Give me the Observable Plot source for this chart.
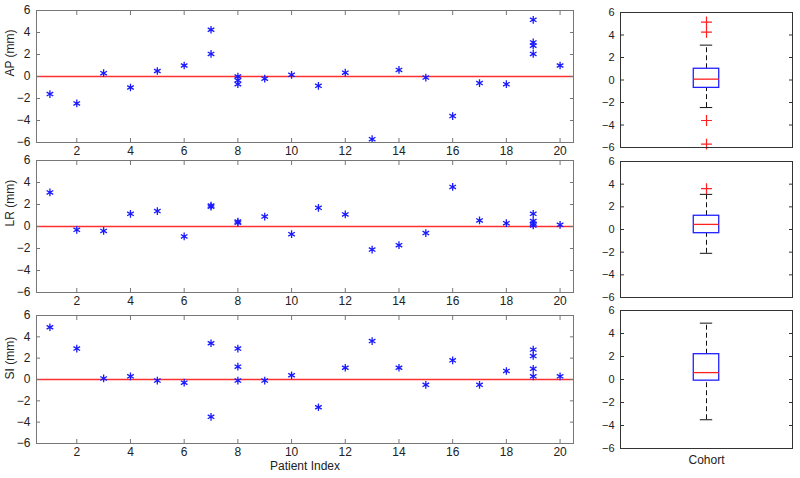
<!DOCTYPE html>
<html><head><meta charset="utf-8">
<script src="https://cdn.jsdelivr.net/npm/d3@7"></script>
<script src="https://cdn.jsdelivr.net/npm/@observablehq/plot@0.6"></script>
<style>
body{margin:0;background:#fff;}
#root{position:relative;width:800px;height:478px;overflow:hidden;background:#fff;}
.panel{position:absolute;}
</style></head><body><div id="root"></div>
<script>
// ---- data ----
const patientTicks = [2,4,6,8,10,12,14,16,18,20];
const valueTicks = [-6,-4,-2,0,2,4,6];
const boxCategory = "Cohort";

const apPatient = [1,2,3,4,5,6,7,7,8,8,8,9,10,11,12,13,14,15,16,17,18,19,19,19,19,20];
const apValue   = [-1.6,-2.45,0.3,-1.0,0.5,1.0,4.25,2.05,0,-0.35,-0.7,-0.2,0.15,-0.85,0.35,-5.7,0.6,-0.1,-3.6,-0.6,-0.7,5.15,3.1,2.8,2.05,1.0];

const lrPatient = [1,2,3,4,5,6,7,7,8,8,9,10,11,12,13,14,15,16,17,18,19,19,19,19,20];
const lrValue   = [3.1,-0.3,-0.4,1.15,1.4,-0.9,1.9,1.8,0.45,0.35,0.9,-0.7,1.7,1.1,-2.1,-1.7,-0.6,3.6,0.55,0.3,1.15,0.5,0.25,0.1,0.15];

const siPatient = [1,2,3,4,5,6,7,7,8,8,8,9,10,11,12,13,14,15,16,17,18,19,19,19,19,20];
const siValue   = [4.9,2.9,0.1,0.3,-0.1,-0.3,3.4,-3.5,2.9,1.2,-0.1,-0.1,0.4,-2.6,1.1,3.6,1.1,-0.5,1.8,-0.5,0.8,2.8,2.2,1.0,0.3,0.3];

const panelLabels = ["AP (mm)", "LR (mm)", "SI (mm)"];
const xTitle = "Patient Index";

// ---- helpers ----
const FONT = "Liberation Sans, Arial, Helvetica, sans-serif";
const root = document.getElementById("root");
function place(el, left, top) {
  const d = document.createElement("div");
  d.className = "panel";
  d.style.left = left + "px"; d.style.top = top + "px";
  d.appendChild(el); root.appendChild(d);
}
// MATLAB-style quantile
function mq(s, p) {
  const n = s.length, pos = n * p + 0.5;
  if (pos <= 1) return s[0];
  if (pos >= n) return s[n - 1];
  const i = Math.floor(pos), f = pos - i;
  return s[i - 1] + f * (s[i] - s[i - 1]);
}
function boxStats(values) {
  const s = values.slice().sort((a, b) => a - b);
  const q1 = mq(s, 0.25), med = mq(s, 0.5), q3 = mq(s, 0.75), iqr = q3 - q1;
  const lo = q1 - 1.5 * iqr, hi = q3 + 1.5 * iqr;
  const inside = s.filter(v => v >= lo && v <= hi);
  return {q1, med, q3, wlo: d3.min(inside), whi: d3.max(inside), outliers: s.filter(v => v < lo || v > hi)};
}

function scatter(patients, values, label, top, marginTop, plotH, withTitle) {
  const data = patients.map((p, i) => ({p, v: values[i]}));
  const marginBottom = withTitle ? 35 : 18;
  const marks = [
    Plot.ruleY([0], {stroke: "#ff3030", strokeWidth: 1.3}),
    Plot.dot(data, {x: "p", y: "v", symbol: "asterisk", r: 3.6, stroke: "#1a1aff", strokeWidth: 1.3}),
    Plot.frame({stroke: "#777"}),
    Plot.axisX(patientTicks, {anchor: "bottom", tickSize: -4, tickPadding: 8, stroke: "#777", fill: "#222", label: null}),
    Plot.axisX(patientTicks, {anchor: "top", tickSize: -4, stroke: "#777", tickFormat: () => "", label: null}),
    Plot.axisY(valueTicks, {anchor: "left", tickSize: -4, tickPadding: 10, stroke: "#777", fill: "#222", label: null}),
    Plot.axisY(valueTicks, {anchor: "right", tickSize: -4, stroke: "#777", tickFormat: () => "", label: null}),
    Plot.text([label], {frameAnchor: "left", dx: -26, rotate: -90, fill: "#222", fontSize: 12})
  ];
  if (withTitle) marks.push(Plot.text([xTitle], {frameAnchor: "bottom", dy: 26, fill: "#222", fontSize: 12}));
  const svg = Plot.plot({
    width: 580, height: marginTop + plotH + marginBottom,
    marginLeft: 36, marginRight: 7, marginTop, marginBottom,
    style: {fontFamily: FONT, fontSize: "12px", background: "transparent", overflow: "visible"},
    x: {domain: [0.5, 20.5]},
    y: {domain: [-6, 6]},
    marks
  });
  place(svg, 0, top);
}

function boxPanel(values, top, marginTop, plotH, withTitle) {
  const st = boxStats(values);
  const bw = 0.074, cw = 0.036;
  const marginBottom = withTitle ? 30 : 13;
  const marks = [
    Plot.ruleX([st], {x: () => 1, y1: "q3", y2: "whi", stroke: "#111", strokeDasharray: "5,3"}),
    Plot.ruleX([st], {x: () => 1, y1: "wlo", y2: "q1", stroke: "#111", strokeDasharray: "5,3"}),
    Plot.ruleY([st], {y: "whi", x1: () => 1 - cw, x2: () => 1 + cw, stroke: "#111"}),
    Plot.ruleY([st], {y: "wlo", x1: () => 1 - cw, x2: () => 1 + cw, stroke: "#111"}),
    Plot.rect([st], {x1: () => 1 - bw, x2: () => 1 + bw, y1: "q1", y2: "q3", fill: "white", stroke: "#2020ff", strokeWidth: 1.3}),
    Plot.ruleY([st], {y: "med", x1: () => 1 - bw, x2: () => 1 + bw, stroke: "#ff2020", strokeWidth: 1.3}),
    Plot.dot(st.outliers, {x: () => 1, y: d => d, symbol: "plus", r: 3.6, stroke: "#ff2020", strokeWidth: 1.2}),
    Plot.frame({stroke: "#333"}),
    Plot.axisY(valueTicks, {anchor: "left", tickSize: -4, tickPadding: 10, stroke: "#333", fill: "#222", fontSize: 11, label: null}),
    Plot.axisY(valueTicks, {anchor: "right", tickSize: -4, stroke: "#333", tickFormat: () => "", label: null})
  ];
  if (withTitle) marks.push(Plot.axisX([1], {anchor: "bottom", tickSize: 0, tickPadding: 7, fill: "#222", tickFormat: () => boxCategory, label: null}));
  const svg = Plot.plot({
    width: 220, height: marginTop + plotH + marginBottom,
    marginLeft: 40, marginRight: 8, marginTop, marginBottom,
    style: {fontFamily: FONT, fontSize: "12px", background: "transparent", overflow: "visible"},
    x: withTitle ? {domain: [0.5, 1.5]} : {domain: [0.5, 1.5], axis: null},
    y: {domain: [-6, 6]},
    marks
  });
  place(svg, 580, top);
}

scatter(apPatient, apValue, panelLabels[0], 0, 10, 132, false);
scatter(lrPatient, lrValue, panelLabels[1], 150, 10, 132, false);
scatter(siPatient, siValue, panelLabels[2], 305, 10, 128, true);

boxPanel(apValue, 0, 12, 135, false);
boxPanel(lrValue, 150, 11, 136, false);
boxPanel(siValue, 298, 12, 138, true);
</script></body></html>
